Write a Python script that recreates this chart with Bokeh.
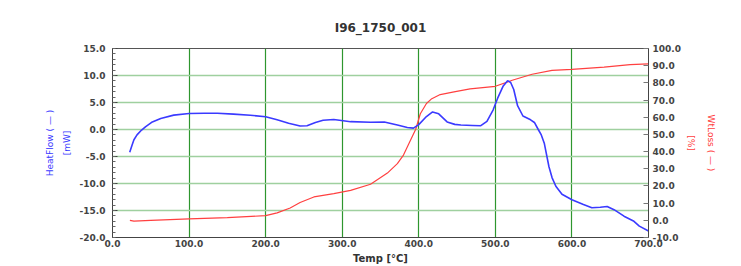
from bokeh.plotting import figure
from bokeh.models import (Range1d, LinearAxis, SingleIntervalTicker, FixedTicker,
                          PrintfTickFormatter)
from bokeh.embed import file_html
from bokeh.resources import INLINE

title_text = "I96_1750_001"
x_label = "Temp [°C]"

# HeatFlow (blue, left axis, mW)
temp_hf = [22.5, 25.5, 28, 32, 38, 43, 52, 63, 80, 100, 120, 137, 158, 180, 200,
           215, 230, 245, 254, 265, 275, 289, 311, 337, 355, 372, 385, 393, 400,
           410, 418, 426, 437, 447, 455, 470, 481, 489, 497, 503, 510, 516, 520,
           524, 529, 536, 546, 551, 556, 560, 564, 570, 574, 579, 587, 600, 615,
           626, 637, 646, 655, 668, 681, 688, 700]
heatflow = [-4.2, -2.9, -1.9, -1.0, -0.1, 0.5, 1.4, 2.05, 2.66, 2.95, 3.0, 3.0,
            2.85, 2.65, 2.35, 1.8, 1.15, 0.65, 0.7, 1.3, 1.7, 1.85, 1.45, 1.35,
            1.4, 0.85, 0.38, 0.25, 0.9, 2.4, 3.25, 2.9, 1.4, 0.95, 0.82, 0.75,
            0.7, 1.5, 3.6, 5.8, 8.0, 9.05, 8.7, 7.4, 4.4, 2.5, 1.8, 1.3, 0.0,
            -1.0, -2.6, -6.9, -8.9, -10.5, -12.0, -13.0, -13.9, -14.5, -14.4,
            -14.25, -14.85, -16.05, -17.0, -17.9, -18.8]

# WtLoss (red, right axis, %)
temp_wl = [22.7, 28, 50, 100, 150, 200, 215, 232, 245, 263, 289, 311, 337, 359,
           372, 380, 389, 396, 402, 410, 417, 428, 446, 467, 500, 522, 548, 574,
           600, 642, 676, 700]
wtloss = [0.0, -0.5, 0.0, 0.8, 1.6, 2.7, 4.3, 7.2, 10.4, 13.6, 15.5, 17.4, 21.0,
          27.5, 33.0, 38.0, 46.5, 53.0, 62.0, 68.0, 70.8, 73.2, 74.8, 76.5, 78.0,
          81.5, 85.0, 87.3, 87.9, 89.2, 90.6, 91.1]

FONT = "DejaVu Sans"
BLUE = "#3a3aff"
RED = "#ff4040"

p = figure(width=741, height=266, output_backend="svg", toolbar_location=None,
           x_range=Range1d(0, 700), y_range=Range1d(-20, 15),
           min_border_left=112, min_border_right=93, min_border_top=48,
           min_border_bottom=28)
p.extra_y_ranges = {"wt": Range1d(-10, 100)}

p.title.text = title_text
p.title.align = "center"
p.title.text_font = FONT
p.title.text_font_size = "12px"
p.title.text_font_style = "bold"
p.title.text_color = "#333333"
p.title.standoff = 28

p.outline_line_color = "#555555"
p.outline_line_width = 1
p.background_fill_color = "white"
p.border_fill_color = "white"

# grids
p.xgrid.ticker = SingleIntervalTicker(interval=100)
p.xgrid.grid_line_color = "#2e962e"
p.xgrid.grid_line_width = 1.2
p.ygrid.ticker = SingleIntervalTicker(interval=5)
p.ygrid.grid_line_color = "#9fd09f"
p.ygrid.grid_line_width = 1.6

# x axis
xa = p.xaxis[0]
xa.ticker = SingleIntervalTicker(interval=100, num_minor_ticks=0)
xa.formatter = PrintfTickFormatter(format="%.1f")
xa.axis_label = x_label
xa.axis_label_text_font = FONT
xa.axis_label_text_font_size = "10px"
xa.axis_label_text_font_style = "bold"
xa.axis_label_text_color = "#333333"
xa.axis_label_standoff = 3
xa.major_label_standoff = 2
xa.major_tick_in = 0
xa.major_tick_out = 0
xa.minor_tick_in = 0
xa.minor_tick_out = 0
xa.axis_line_color = "#444444"

# left axis
ya = p.yaxis[0]
ya.ticker = SingleIntervalTicker(interval=5, num_minor_ticks=5)
ya.formatter = PrintfTickFormatter(format="%.1f")
ya.major_tick_in = 5
ya.major_tick_out = 0
ya.minor_tick_in = 3
ya.minor_tick_out = 0
ya.major_label_standoff = 7
ya.axis_line_color = "#444444"
ya.major_tick_line_color = "#444444"
ya.minor_tick_line_color = "#666666"

# right axis
ra = LinearAxis(y_range_name="wt",
                ticker=SingleIntervalTicker(interval=10, num_minor_ticks=0),
                formatter=PrintfTickFormatter(format="%.1f"))
ra.major_tick_in = 5
ra.major_tick_out = 0
ra.minor_tick_in = 0
ra.minor_tick_out = 0
ra.major_label_standoff = 4
ra.axis_line_color = "#444444"
ra.major_tick_line_color = "#777777"
p.add_layout(ra, "right")

for ax in (xa, ya, ra):
    ax.major_label_text_font = FONT
    ax.major_label_text_font_size = "9px"
    ax.major_label_text_font_style = "bold"
    ax.major_label_text_color = "#444444"


def title_axis(text, color, standoff, range_name="default"):
    ax = LinearAxis(y_range_name=range_name, ticker=FixedTicker(ticks=[]),
                    axis_label=text)
    ax.axis_line_color = None
    ax.major_tick_line_color = None
    ax.minor_tick_line_color = None
    ax.major_label_text_font_size = "0px"
    ax.axis_label_text_font = FONT
    ax.axis_label_text_font_size = "9px"
    ax.axis_label_text_font_style = "normal"
    ax.axis_label_text_color = color
    ax.axis_label_standoff = standoff
    return ax


p.add_layout(title_axis("[mW]", BLUE, 5), "left")
p.add_layout(title_axis("HeatFlow ( — )", BLUE, 4), "left")
p.add_layout(title_axis("[%]", RED, 2, "wt"), "right")
p.add_layout(title_axis("WtLoss ( — )", RED, 7, "wt"), "right")

# data lines
p.line(temp_wl, wtloss, y_range_name="wt", line_color=RED, line_width=1.2)
p.line(temp_hf, heatflow, line_color=BLUE, line_width=1.6)

open("out.html", "w").write(file_html(p, INLINE))
